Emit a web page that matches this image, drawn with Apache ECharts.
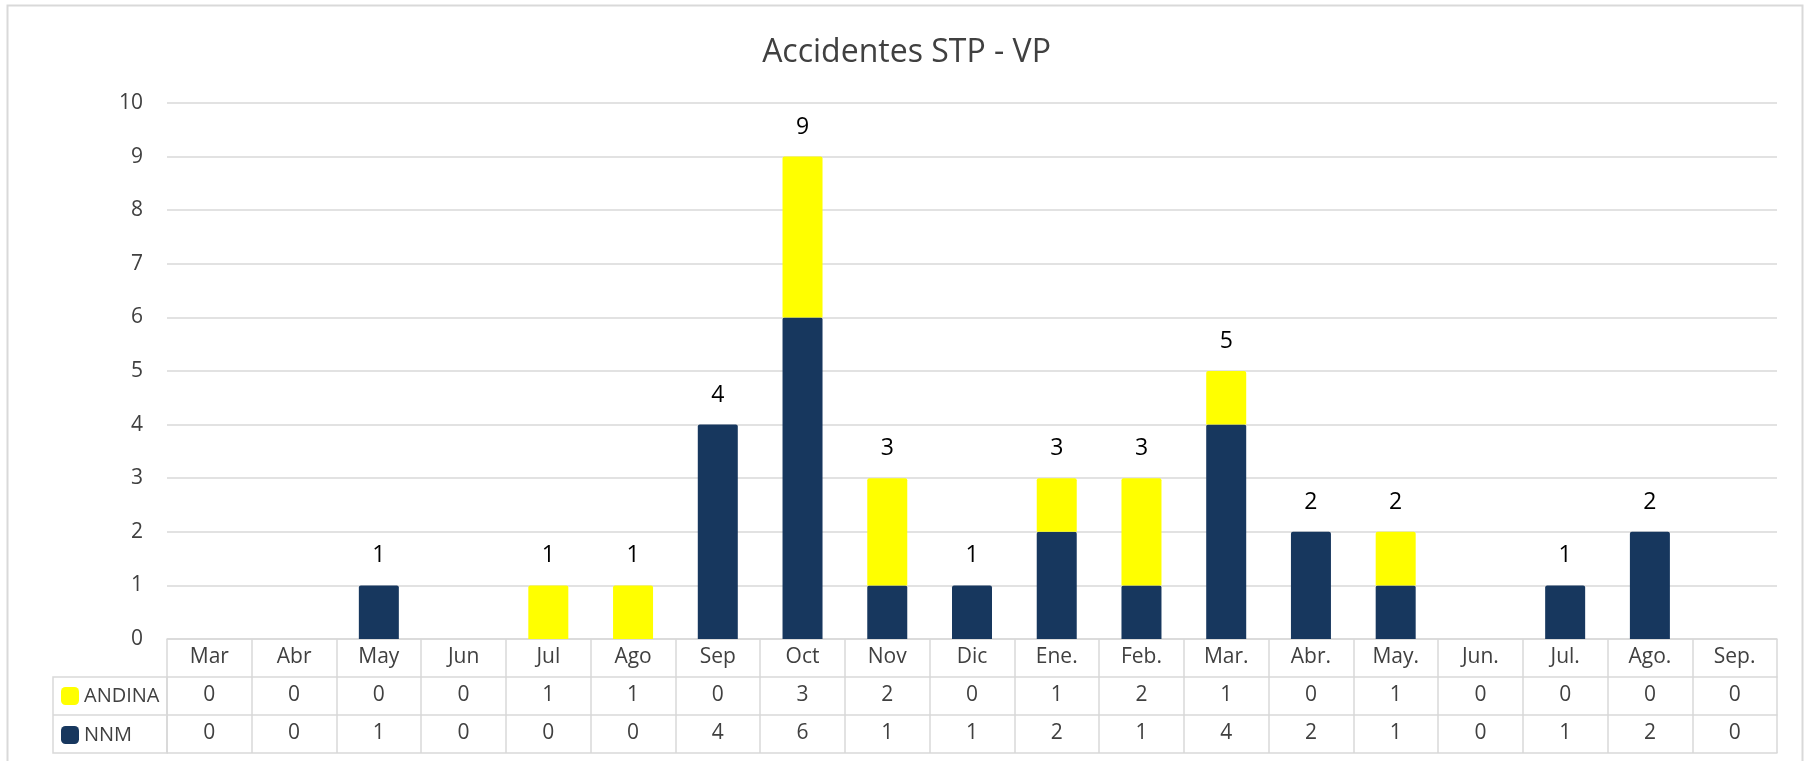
<!DOCTYPE html>
<html>
<head>
<meta charset="utf-8">
<script src="https://cdn.jsdelivr.net/npm/echarts@6/dist/echarts.min.js"></script>
<style>html,body{margin:0;padding:0;background:#fff}#c{width:1813px;height:761px}</style>
</head>
<body>
<div id="c"></div>
<script>
const categories = ['Mar','Abr','May','Jun','Jul','Ago','Sep','Oct','Nov','Dic','Ene.','Feb.','Mar.','Abr.','May.','Jun.','Jul.','Ago.','Sep.'];
const andina = [0,0,0,0,1,1,0,3,2,0,1,2,1,0,1,0,0,0,0];
const nnm    = [0,0,1,0,0,0,4,6,1,1,2,1,4,2,1,0,1,2,0];
const yTicks = {min:0, max:10, interval:1};

const FONT = '"Open Sans", sans-serif';
const GRID = {left:167, right:36, top:103, bottom:122};
const ROW = 38;
const GRAY = '#d9d9d9';
const TXT = '#404040';

const chart = echarts.init(document.getElementById('c'));
const valueAxisLabel = (arr) => ({
  show:true, interval:0, margin:8, color:TXT, fontSize:21, fontFamily:FONT,
  formatter:(v,i)=>String(arr[i])
});
chart.setOption({
  animation:false,
  title:{text:'Accidentes STP - VP', left:'center', top:32,
    textStyle:{fontFamily:FONT, fontSize:32, fontWeight:'normal', color:TXT}},
  legend:{data:['ANDINA','NNM'], orient:'vertical', left:56, top:681,
    itemWidth:18, itemHeight:18, itemGap:19, icon:'roundRect',
    textStyle:{fontFamily:FONT, fontSize:20, lineHeight:18, color:TXT},
    selectedMode:false},
  grid:GRID,
  xAxis:[
    {type:'category', data:categories, position:'bottom',
     axisLine:{lineStyle:{color:GRAY, width:1.5}},
     axisTick:{show:true, interval:0, length:ROW*3, lineStyle:{color:GRAY, width:1.5}},
     axisLabel:{interval:0, margin:8, color:TXT, fontSize:21, fontFamily:FONT}},
    {type:'category', data:categories, position:'bottom', offset:ROW,
     axisLine:{lineStyle:{color:GRAY, width:1.5}}, axisTick:{show:false},
     axisLabel:valueAxisLabel(andina)},
    {type:'category', data:categories, position:'bottom', offset:ROW*2,
     axisLine:{lineStyle:{color:GRAY, width:1.5}}, axisTick:{show:false},
     axisLabel:valueAxisLabel(nnm)},
    {type:'category', data:categories, position:'bottom', offset:ROW*3,
     axisLine:{lineStyle:{color:GRAY, width:1.5}}, axisTick:{show:false},
     axisLabel:{show:false}}
  ],
  yAxis:{type:'value', min:yTicks.min, max:yTicks.max, interval:yTicks.interval,
    axisLine:{show:false}, axisTick:{show:false},
    axisLabel:{margin:24, color:TXT, fontSize:21, fontFamily:FONT},
    splitLine:{lineStyle:{color:GRAY, width:1.5}}},
  series:[
    {name:'NNM', type:'bar', stack:'t', data:nnm, barWidth:40,
     itemStyle:{color:'#17375E', borderRadius:[2,2,0,0]}},
    {name:'ANDINA', type:'bar', stack:'t', data:andina, barWidth:40,
     itemStyle:{color:'#FFFF00', borderRadius:[2,2,0,0]},
     label:{show:true, position:'top', distance:18, color:'#000', fontSize:23, fontFamily:FONT,
       formatter:p=>{const t=andina[p.dataIndex]+nnm[p.dataIndex]; return t>0?String(t):'';}}}
  ],
  graphic:[
    {type:'rect', shape:{x:7.5, y:5.5, width:1795, height:800}, style:{fill:null, stroke:GRAY, lineWidth:2}, silent:true},
    {type:'rect', shape:{x:53, y:761-GRID.bottom+ROW, width:GRID.left-53, height:ROW*2}, style:{fill:null, stroke:GRAY, lineWidth:1.5}, silent:true, z:-1},
    {type:'line', shape:{x1:53, y1:761-GRID.bottom+ROW*2, x2:GRID.left, y2:761-GRID.bottom+ROW*2}, style:{stroke:GRAY, lineWidth:1.5}, silent:true, z:-1}
  ]
});
</script>
</body>
</html>
